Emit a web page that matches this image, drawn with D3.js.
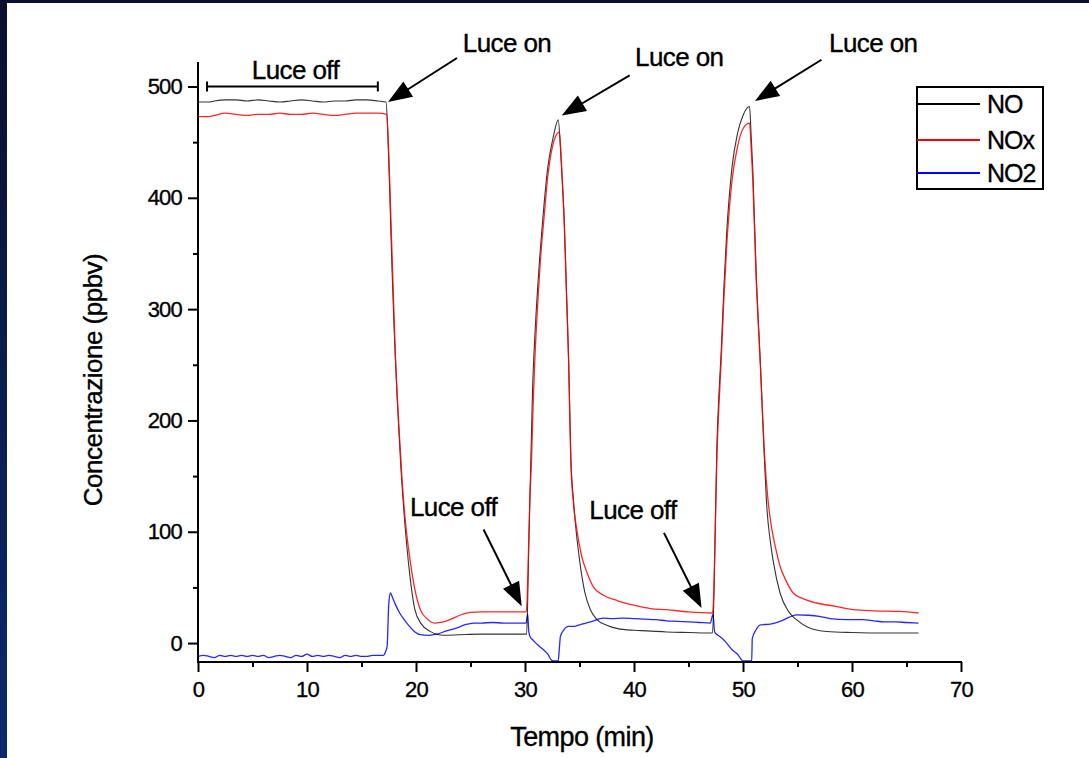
<!DOCTYPE html>
<html><head><meta charset="utf-8">
<script src="https://cdn.jsdelivr.net/npm/d3@7"></script>
<style>
html,body{margin:0;padding:0;background:#fff;}
svg{display:block;}
text{font-family:"Liberation Sans",Arial,sans-serif;fill:#000;stroke:#000;stroke-width:0.35px;}
</style></head>
<body>
<svg id="chart" width="1089" height="758"></svg>
<script>
// ---------------- DATA ----------------
const seriesNames = ["NO", "NOx", "NO2"];
const seriesColors = ["#000000", "#ff0000", "#0000ff"];

const noTime = [0,1,1.5,2.5,3.5,4.5,5.5,6.5,7.5,8.5,9.5,10.5,11.5,12.5,13.5,14.5,15.5,16.5,17.25,
  17.4,17.6,17.8,18.0,18.3,18.6,19.0,19.4,19.9,20.5,21.3,22.5,24,26,28,30.15,
  30.25,30.35,30.5,30.7,30.9,31.2,31.6,32.1,32.6,33.05,33.25,33.45,33.6,33.8,34.0,34.2,34.45,34.7,35.0,35.5,36.0,36.6,37.5,38.5,40,41.2,43,45,47.2,
  47.3,47.45,47.6,47.8,48.0,48.25,48.5,49.0,49.5,50.0,50.6,50.75,50.9,51.2,51.6,51.9,52.2,52.5,52.8,53.4,54.2,54.9,56,57.7,60,63,66.1];
const noValues = [486,486,487,488,488,487,488,487,486,487,488,487,486,487,487,488,488,487,486,
  462,402,336,281,215,160,105,64,30,17,10.5,7,7.5,8,8,8,
  40,90,150,230,275,325,377,428,455,470,445,410,380,318,255,168,128,100,75,45,30,21,16,13,11.5,11,10,9.5,9,
  30,100,175,225,262,320,368,428,458,474,482,455,425,335,250,180,120,92,72,45,28,21,14,10.4,9.5,9,9];

const noxTime = [0,1,1.5,2.5,3.5,4.5,5.5,6.5,7.5,8.5,9.5,10.5,11.5,12.5,13.5,14.5,15.5,16.5,17.3,
  17.5,17.7,17.9,18.1,18.4,18.7,19.0,19.45,19.9,20.4,21.0,21.7,22.5,23.1,24,25,26,28,30.1,
  30.2,30.3,30.45,30.6,30.75,30.9,31.2,31.5,31.7,32.1,32.5,32.8,33.15,33.3,33.45,33.6,33.8,34.0,34.2,34.45,34.7,35.2,35.7,36.3,37.2,38.5,40,41.5,43,45,47.2,
  47.3,47.45,47.6,47.8,48.0,48.25,48.5,49.0,49.5,50.0,50.6,50.75,50.9,51.2,51.6,52.0,52.3,52.6,53.0,53.4,54.0,54.6,55.5,56.75,58.5,60.1,62,64.4,66.1];
const noxValues = [473,473,474,476,475,474,475,475,476,475,475,476,475,474,475,476,476,476,475,
  440,380,320,260,200,150,112,75,48,30,22,18,19,21,25,27.5,28,28,28,
  40,75,130,165,215,254,310,355,377,420,445,455,459,440,410,377,315,254,165,125,105,78,63,50,43,38,34,31,30,28,27,
  40,100,165,215,254,310,356,416,446,462,467,445,416,330,248,165,128,105,85,69,55,45,40,36,33,30,29,28.4,27];

const no2Time = [0,0.5,1,1.5,2,2.5,3,3.5,4,4.5,5,5.5,6,6.5,7,7.5,8,8.5,9,9.5,10,10.5,11,11.5,12,12.5,13,13.5,14,14.5,15,15.5,16,16.5,17,17.2,
  17.35,17.5,17.65,17.8,18.1,18.5,19.0,19.4,19.9,20.4,21.2,21.9,22.8,23.7,24.5,25.3,26,27,28,29,30.1,
  30.25,30.35,30.5,30.7,31.2,31.7,32.1,32.4,32.6,33.05,33.15,33.25,33.5,34,34.5,35,36,37.2,38,39,40,41,42,43,44,45,46,47.0,
  47.25,47.4,47.7,48,48.5,49,49.5,50.0,50.8,50.85,51.2,51.6,52.5,53.4,54.2,54.9,56,57,58,59.5,61,62,63,64,65,66.1];
const no2Values = [-12,-11,-12,-13,-11,-12,-11,-12,-11,-12,-11,-12,-11,-13,-12,-11,-12,-13,-11,-12,-10,-12,-11,-12,-11,-12,-13,-11,-12,-11,-12,-12,-11,-11,-11,-8,
  -3,35,45,42,35,27,20,15,10,7.5,7,8,11,13.5,16.5,18,18,18.5,18,18,18,
  26,10,5,3,-2,-6,-10,-15,-16,-16,-5,6,11,15,15,16.4,19,22.4,22,22.5,22,21.5,21,20,19.5,19,18.5,18,
  26,10,7,5,0,-6,-10,-16,-16,4,12,16.4,17,19.4,23,25.4,25,24,22,21,21,20,19,19,18.5,18];

const xTicks = [0,10,20,30,40,50,60,70];
const yTicks = [0,100,200,300,400,500];
const xDomain = [0,70];
const yDomain = [-17,522];

// annotations in data units
const annLabels = ["Luce on","Luce on","Luce on","Luce off","Luce off"];
const annText = [[24.3,531],[40.1,518.5],[57.9,531],[19.45,114.5],[35.9,111.8]];
const annTail = [[23.76,525.6],[39.6,510],[57.2,524],[26.2,102],[42.75,99]];
const annTip = [[17.43,486],[33.37,474],[51.1,487],[29.7,33],[46.2,31.4]];
const offBracket = [0.83,16.5,500];
const offBracketLabel = ["Luce off", 8.94, 507];

// ---------------- DRAW ----------------
const svg = d3.select("#chart");
const W = 1089, H = 758;

const defs = svg.append("defs");
const g1 = defs.append("linearGradient").attr("id","lg").attr("x1",0).attr("y1",0).attr("x2",0).attr("y2",1);
g1.append("stop").attr("offset","0%").attr("stop-color","#0a0f2c");
g1.append("stop").attr("offset","100%").attr("stop-color","#0b2a6e");
svg.append("rect").attr("width",W).attr("height",H).attr("fill","#fff");
svg.append("rect").attr("x",0).attr("y",0).attr("width",7).attr("height",H).attr("fill","url(#lg)");
svg.append("rect").attr("x",0).attr("y",0).attr("width",W).attr("height",3).attr("fill","#0a0f2c");

const x = d3.scaleLinear().domain(xDomain).range([198, 961]);
const y = d3.scaleLinear().domain(yDomain).range([662, 62]);

defs.append("clipPath").attr("id","plot").append("rect")
  .attr("x",198).attr("y",62).attr("width",763).attr("height",600);

const allSeries = [
  {t:noTime, v:noValues},
  {t:noxTime, v:noxValues},
  {t:no2Time, v:no2Values}
];
const line = d3.line().x(d=>x(d[0])).y(d=>y(d[1])).curve(d3.curveMonotoneX);
const order = [2,0,1];
order.forEach(i=>{
  const s = allSeries[i];
  const pts = s.t.map((t,j)=>[t, s.v[j]]);
  svg.append("path").attr("d", line(pts)).attr("fill","none")
    .attr("stroke", seriesColors[i]).attr("stroke-width", i===0?1.1:1.3)
    .attr("stroke-opacity", i===0?0.8:0.85)
    .attr("stroke-linejoin","round")
    .attr("clip-path","url(#plot)");
});

// axes
const axG = svg.append("g");
axG.append("line").attr("x1",198).attr("x2",198).attr("y1",62).attr("y2",663).attr("stroke","#000").attr("stroke-width",2);
axG.append("line").attr("x1",197).attr("x2",962).attr("y1",662).attr("y2",662).attr("stroke","#000").attr("stroke-width",2);

const xAxis = d3.axisBottom(x).tickValues(xTicks).tickSize(10).tickPadding(8).tickFormat(d3.format("d"));
const xa = svg.append("g").attr("transform","translate(0,662)").call(xAxis);
xa.select(".domain").remove();
xa.selectAll("line").attr("stroke","#000").attr("stroke-width",2);
xa.selectAll("text").attr("font-size",22).attr("letter-spacing","-0.8px").attr("font-family","Liberation Sans, Arial, sans-serif").attr("dy","0.75em");

const xMinor = d3.axisBottom(x).tickValues(d3.range(5,70,10)).tickSize(5).tickFormat("");
const xm = svg.append("g").attr("transform","translate(0,662)").call(xMinor);
xm.select(".domain").remove();
xm.selectAll("line").attr("stroke","#000").attr("stroke-width",2);

const yAxis = d3.axisLeft(y).tickValues(yTicks).tickSize(10).tickPadding(6).tickFormat(d3.format("d"));
const ya = svg.append("g").attr("transform","translate(198,0)").call(yAxis);
ya.select(".domain").remove();
ya.selectAll("line").attr("stroke","#000").attr("stroke-width",2);
ya.selectAll("text").attr("font-size",22).attr("letter-spacing","-0.8px").attr("font-family","Liberation Sans, Arial, sans-serif");

const yMinor = d3.axisLeft(y).tickValues(d3.range(50,520,100)).tickSize(5).tickFormat("");
const ym = svg.append("g").attr("transform","translate(198,0)").call(yMinor);
ym.select(".domain").remove();
ym.selectAll("line").attr("stroke","#000").attr("stroke-width",2);

// axis titles
svg.append("text").attr("x",582).attr("y",746).attr("text-anchor","middle")
  .attr("font-size",27).attr("letter-spacing","-0.6px").text("Tempo (min)");
svg.append("text").attr("transform","translate(102,380) rotate(-90)").attr("text-anchor","middle")
  .attr("font-size",26).attr("letter-spacing","-0.5px").text("Concentrazione (ppbv)");

// top "Luce off" bracket
const by = y(offBracket[2]);
svg.append("line").attr("x1",x(offBracket[0])).attr("x2",x(offBracket[1])).attr("y1",by).attr("y2",by).attr("stroke","#000").attr("stroke-width",2);
[offBracket[0],offBracket[1]].forEach(t=>{
  svg.append("line").attr("x1",x(t)).attr("x2",x(t)).attr("y1",by-5).attr("y2",by+5).attr("stroke","#000").attr("stroke-width",2);
});
svg.append("text").attr("x",x(offBracketLabel[1])).attr("y",y(offBracketLabel[2])).attr("text-anchor","middle")
  .attr("font-size",26).attr("letter-spacing","-0.6px").text(offBracketLabel[0]);

// arrows
annLabels.forEach((lab,i)=>{
  svg.append("text").attr("x",x(annText[i][0])).attr("y",y(annText[i][1]))
    .attr("font-size",26).attr("letter-spacing","-0.6px").text(lab);
  const x0 = x(annTail[i][0]), y0 = y(annTail[i][1]);
  const x1 = x(annTip[i][0]), y1 = y(annTip[i][1]);
  const dx = x1-x0, dy = y1-y0, L = Math.hypot(dx,dy);
  const ux = dx/L, uy = dy/L;
  const hl = 24, hw = 9;
  const bx = x1-ux*hl, byy = y1-uy*hl;
  svg.append("line").attr("x1",x0).attr("y1",y0).attr("x2",bx+ux*2).attr("y2",byy+uy*2)
    .attr("stroke","#000").attr("stroke-width",2);
  svg.append("path").attr("d",`M${x1},${y1}L${bx-uy*hw},${byy+ux*hw}L${bx+uy*hw},${byy-ux*hw}Z`).attr("fill","#000");
});

// legend
const lg = svg.append("g");
lg.append("rect").attr("x",917).attr("y",87).attr("width",126).attr("height",102)
  .attr("fill","none").attr("stroke","#000").attr("stroke-width",2);
const legY = [104,140,173];
seriesNames.forEach((n,i)=>{
  lg.append("line").attr("x1",917).attr("x2",980).attr("y1",legY[i]).attr("y2",legY[i])
    .attr("stroke",seriesColors[i]).attr("stroke-width",2);
  lg.append("text").attr("x",987).attr("y",legY[i]+9).attr("font-size",25).attr("letter-spacing","-1px").text(n);
});
</script>
</body></html>
